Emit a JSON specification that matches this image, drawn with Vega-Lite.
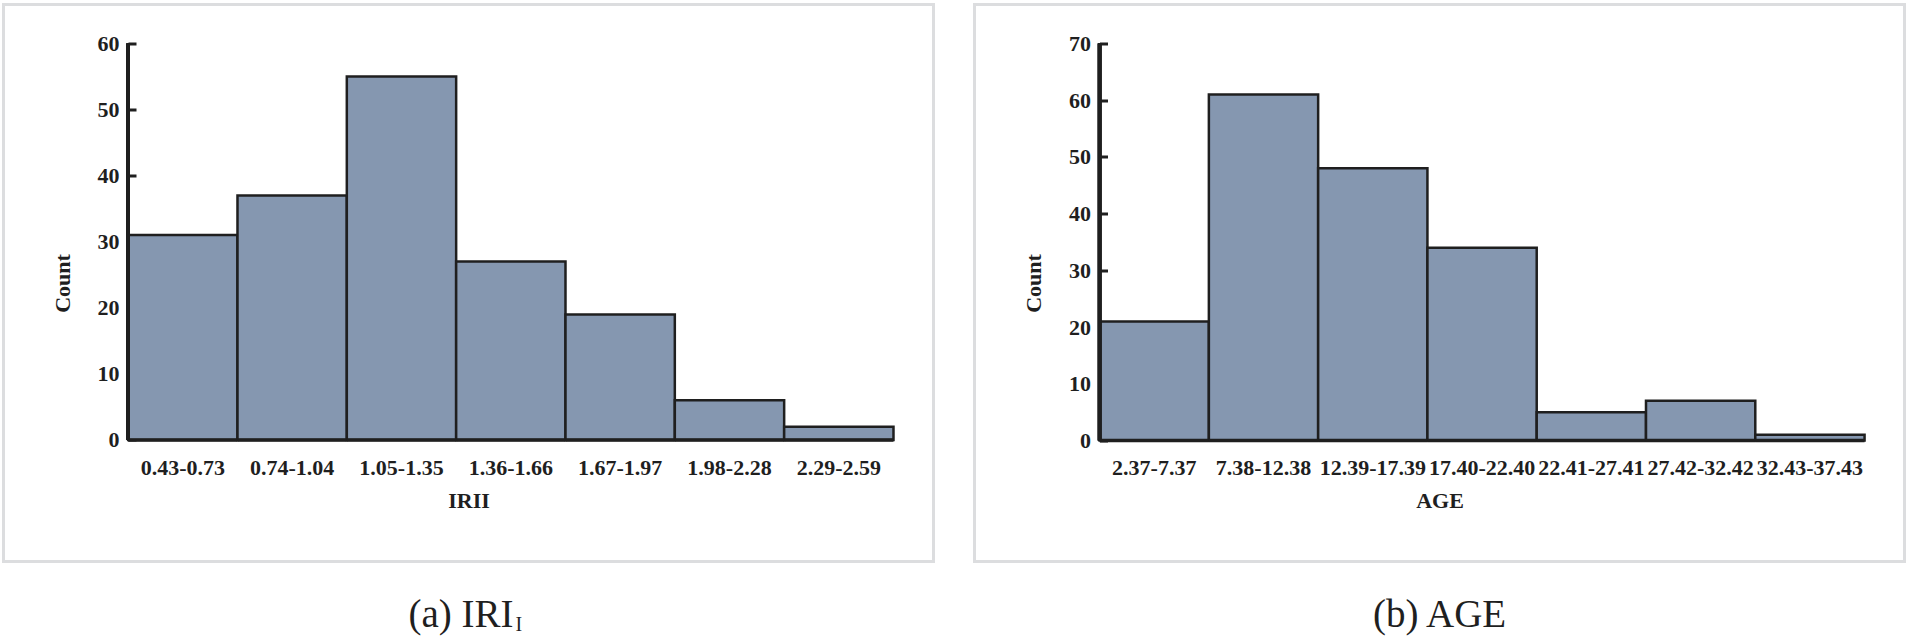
{
  "$schema": "https://vega.github.io/schema/vega-lite/v6.json",
  "background": "white",
  "padding": {"left": 1.5, "top": 2.5, "right": 0, "bottom": 0},
  "spacing": 37,
  "datasets": {
    "iri": [
      {"range": "0.43-0.73", "count": 31},
      {"range": "0.74-1.04", "count": 37},
      {"range": "1.05-1.35", "count": 55},
      {"range": "1.36-1.66", "count": 27},
      {"range": "1.67-1.97", "count": 19},
      {"range": "1.98-2.28", "count": 6},
      {"range": "2.29-2.59", "count": 2}
    ],
    "age": [
      {"range": "2.37-7.37", "count": 21},
      {"range": "7.38-12.38", "count": 61},
      {"range": "12.39-17.39", "count": 48},
      {"range": "17.40-22.40", "count": 34},
      {"range": "22.41-27.41", "count": 5},
      {"range": "27.42-32.42", "count": 7},
      {"range": "32.43-37.43", "count": 1}
    ]
  },
  "hconcat": [
    {
      "width": 930,
      "height": 557,
      "resolve": {"scale": {"x": "independent"}, "axis": {"x": "independent"}},
      "layer": [
        {
          "data": {"name": "iri"},
          "encoding": {
            "x": {
              "field": "range", "type": "ordinal", "sort": null,
              "scale": {"paddingInner": 0, "paddingOuter": 0.753, "align": 0.757},
              "axis": {"title": "IRII", "orient": "bottom", "offset": -121.5, "domain": false, "ticks": false, "labelAngle": 0, "labelPadding": 17, "titlePadding": 12, "labelOverlap": false}
            },
            "y": {
              "field": "count", "type": "quantitative",
              "scale": {"domain": [-18.39, 65.9], "nice": false, "zero": false},
              "axis": {"title": "Count", "offset": -124.5, "domain": false, "tickSize": -8, "values": [0, 10, 20, 30, 40, 50, 60], "labelPadding": 17, "titlePadding": 23}
            }
          },
          "layer": [
            {"mark": {"type": "bar", "fill": "#8597b0", "stroke": "#1f1f1f", "strokeWidth": 2.5}},
            {"mark": {"type": "bar", "fillOpacity": 0, "stroke": "#1f1f1f", "strokeWidth": 3.5}, "encoding": {"y": {"datum": 0, "type": "quantitative"}, "y2": {"datum": 0}}},
            {"mark": {"type": "rule", "stroke": "#1f1f1f", "strokeWidth": 3.5}, "encoding": {"x": {"datum": "0.43-0.73", "type": "ordinal", "bandPosition": 0}, "y": {"datum": 0, "type": "quantitative"}, "y2": {"datum": 60}}}
          ]
        },
        {
          "data": {"values": [{"caption": "(a) IRI", "sub": "I"}]},
          "encoding": {
            "x": {"datum": 0.5484, "type": "quantitative", "scale": {"domain": [0, 1], "nice": false, "zero": false}, "axis": null},
            "y": {"datum": -28.37, "type": "quantitative"}
          },
          "layer": [
            {"mark": {"type": "text", "font": "Liberation Serif", "fontSize": 39, "align": "right", "baseline": "alphabetic", "color": "#1f1f1f"}, "encoding": {"text": {"field": "caption"}}},
            {"mark": {"type": "text", "font": "Liberation Serif", "fontSize": 20, "align": "left", "baseline": "alphabetic", "dx": 2, "dy": 4, "color": "#1f1f1f"}, "encoding": {"text": {"field": "sub"}}}
          ]
        }
      ]
    },
    {
      "width": 930,
      "height": 557,
      "resolve": {"scale": {"x": "independent"}, "axis": {"x": "independent"}},
      "layer": [
        {
          "data": {"name": "age"},
          "encoding": {
            "x": {
              "field": "range", "type": "ordinal", "sort": null,
              "scale": {"paddingInner": 0, "paddingOuter": 0.755, "align": 0.758},
              "axis": {"title": "AGE", "orient": "bottom", "offset": -121, "domain": false, "ticks": false, "labelAngle": 0, "labelPadding": 17, "titlePadding": 12, "labelOverlap": false}
            },
            "y": {
              "field": "count", "type": "quantitative",
              "scale": {"domain": [-21.34, 76.88], "nice": false, "zero": false},
              "axis": {"title": "Count", "offset": -125, "domain": false, "tickSize": -8, "values": [0, 10, 20, 30, 40, 50, 60, 70], "labelPadding": 17, "titlePadding": 23}
            }
          },
          "layer": [
            {"mark": {"type": "bar", "fill": "#8597b0", "stroke": "#1f1f1f", "strokeWidth": 2.5}},
            {"mark": {"type": "bar", "fillOpacity": 0, "stroke": "#1f1f1f", "strokeWidth": 3.5}, "encoding": {"y": {"datum": 0, "type": "quantitative"}, "y2": {"datum": 0}}},
            {"mark": {"type": "rule", "stroke": "#1f1f1f", "strokeWidth": 3.5}, "encoding": {"x": {"datum": "2.37-7.37", "type": "ordinal", "bandPosition": 0}, "y": {"datum": 0, "type": "quantitative"}, "y2": {"datum": 70}}}
          ]
        },
        {
          "data": {"values": [{"caption": "(b) AGE"}]},
          "mark": {"type": "text", "font": "Liberation Serif", "fontSize": 39, "align": "center", "baseline": "alphabetic", "color": "#1f1f1f"},
          "encoding": {
            "x": {"datum": 0.5, "type": "quantitative", "scale": {"domain": [0, 1], "nice": false, "zero": false}, "axis": null},
            "y": {"datum": -32.97, "type": "quantitative"},
            "text": {"field": "caption"}
          }
        }
      ]
    }
  ],
  "config": {
    "view": {"stroke": "#dcdddf", "strokeWidth": 3},
    "font": "Liberation Serif",
    "axis": {
      "grid": false,
      "labelFont": "Liberation Serif",
      "labelFontWeight": "bold",
      "labelFontSize": 22,
      "labelColor": "#1f1f1f",
      "titleFont": "Liberation Serif",
      "titleFontWeight": "bold",
      "titleFontSize": 22,
      "titleColor": "#1f1f1f",
      "tickColor": "#1f1f1f",
      "tickWidth": 3
    }
  }
}
